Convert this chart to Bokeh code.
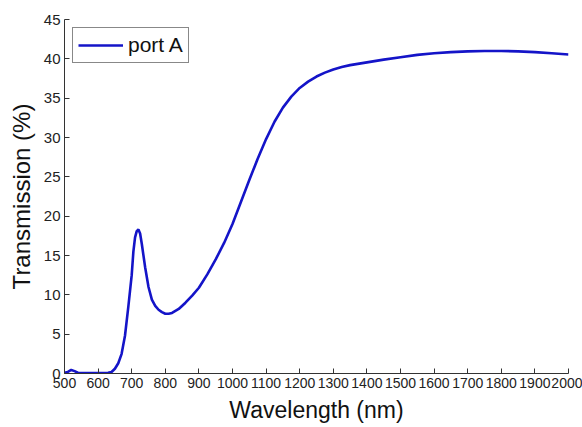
from bokeh.plotting import figure
from bokeh.models import Range1d, FixedTicker, Legend, LegendItem
from bokeh.embed import file_html
from bokeh.resources import INLINE

# Data
wavelength = [500, 510, 520, 530, 540, 560, 580, 600, 620, 630, 640, 650, 660, 670,
              680, 690, 700, 705, 710, 715, 720, 725, 730, 740, 750, 760, 770, 780,
              790, 800, 810, 820, 840, 860, 880, 900, 925, 950, 975, 1000, 1025,
              1050, 1075, 1100, 1125, 1150, 1175, 1200, 1225, 1250, 1275, 1300, 1325,
              1350, 1400, 1450, 1500, 1550, 1600, 1650, 1700, 1750, 1800, 1850, 1900,
              1950, 2000]
transmission = [0.1, 0.2, 0.45, 0.3, 0.1, 0.05, 0.05, 0.05, 0.05, 0.08, 0.2, 0.6, 1.3, 2.5,
                4.8, 8.5, 12.5, 15.5, 17.3, 18.1, 18.3, 17.8, 16.5, 13.5, 11.0, 9.4, 8.6, 8.1,
                7.8, 7.6, 7.6, 7.7, 8.2, 9.0, 9.9, 10.9, 12.6, 14.5, 16.6, 19.0, 21.8,
                24.6, 27.3, 29.8, 32.0, 33.8, 35.2, 36.3, 37.1, 37.75, 38.25, 38.65, 38.95,
                39.2, 39.55, 39.9, 40.2, 40.5, 40.7, 40.85, 40.95, 41.0, 41.0, 40.95, 40.85,
                40.7, 40.55]
x_ticks = list(range(500, 2001, 100))
y_ticks = list(range(0, 46, 5))
series_name = "port A"

FONT = "Liberation Sans"
TXT = "#222222"

p = figure(width=582, height=427, output_backend="svg", toolbar_location=None,
           x_range=Range1d(500, 2000), y_range=Range1d(0, 45),
           min_border_left=64, min_border_right=14, min_border_top=19,
           min_border_bottom=54)

r = p.line(wavelength, transmission, line_color="#1414c8", line_width=2.6)

p.xgrid.visible = False
p.ygrid.visible = False
p.outline_line_color = None
p.background_fill_color = "white"
p.border_fill_color = "white"

for ax in (p.xaxis[0], p.yaxis[0]):
    ax.axis_line_color = "#333333"
    ax.major_tick_line_color = "#333333"
    ax.major_tick_in = 5
    ax.major_tick_out = 0
    ax.minor_tick_line_color = None
    ax.major_label_text_font = FONT
    ax.major_label_text_color = TXT
    ax.axis_label_text_font = FONT
    ax.axis_label_text_font_style = "normal"
    ax.axis_label_text_color = "#111111"

p.xaxis.ticker = FixedTicker(ticks=x_ticks)
p.yaxis.ticker = FixedTicker(ticks=y_ticks)
p.xaxis.major_label_text_font_size = "14px"
p.yaxis.major_label_text_font_size = "15px"
p.xaxis.axis_label = "Wavelength (nm)"
p.yaxis.axis_label = "Transmission (%)"
p.xaxis.axis_label_text_font_size = "23px"
p.yaxis.axis_label_text_font_size = "24px"
p.xaxis.major_label_standoff = 4
p.yaxis.major_label_standoff = 4
p.xaxis.axis_label_standoff = 6
p.yaxis.axis_label_standoff = 6

legend = Legend(items=[LegendItem(label=series_name, renderers=[r])],
                location="top_left", margin=8, padding=5,
                glyph_width=45, label_standoff=5,
                border_line_color="#111111", border_line_width=1,
                label_text_font=FONT, label_text_font_size="21px",
                label_text_color="#111111", background_fill_alpha=1.0)
p.add_layout(legend)

open("out.html", "w").write(file_html(p, INLINE))
